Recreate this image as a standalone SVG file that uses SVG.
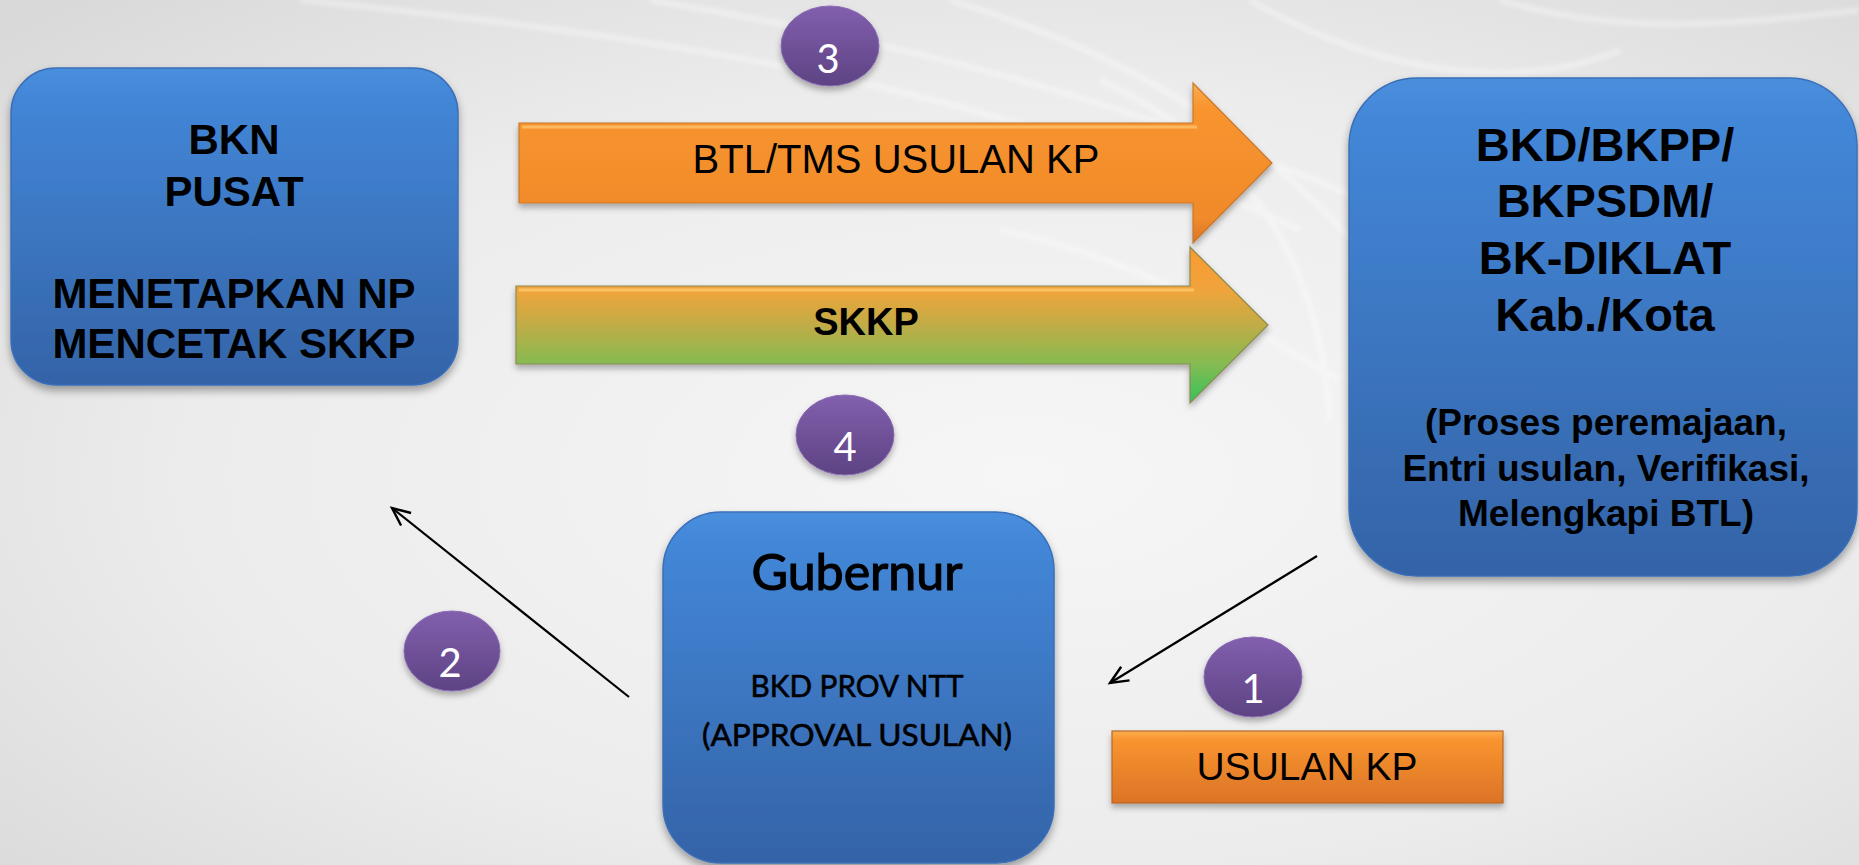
<svg xmlns="http://www.w3.org/2000/svg" width="1859" height="865" viewBox="0 0 1859 865">
<defs>
<radialGradient id="bg" cx="0.55" cy="0.55" r="0.75">
<stop offset="0" stop-color="#f6f6f6"/>
<stop offset="0.6" stop-color="#ececec"/>
<stop offset="1" stop-color="#d9d9d9"/>
</radialGradient>
<linearGradient id="blue" x1="0" y1="0" x2="0" y2="1">
<stop offset="0" stop-color="#4a8fde"/>
<stop offset="0.08" stop-color="#4387d8"/>
<stop offset="1" stop-color="#3463a7"/>
</linearGradient>
<linearGradient id="purple" x1="0" y1="0" x2="0" y2="1">
<stop offset="0" stop-color="#825fae"/>
<stop offset="1" stop-color="#5d4383"/>
</linearGradient>
<linearGradient id="orange" x1="0" y1="0" x2="0" y2="1">
<stop offset="0" stop-color="#fbae4f"/>
<stop offset="0.15" stop-color="#f8952f"/>
<stop offset="0.85" stop-color="#f08a2a"/>
<stop offset="1" stop-color="#d9742a"/>
</linearGradient>
<linearGradient id="green" gradientUnits="userSpaceOnUse" x1="0" y1="247" x2="0" y2="403">
<stop offset="0" stop-color="#f99a30"/>
<stop offset="0.28" stop-color="#f0a43c"/>
<stop offset="0.5" stop-color="#c0ac46"/>
<stop offset="0.75" stop-color="#85bb52"/>
<stop offset="1" stop-color="#35c35c"/>
</linearGradient>
<linearGradient id="usulan" x1="0" y1="0" x2="0" y2="1">
<stop offset="0" stop-color="#fbae4f"/>
<stop offset="0.12" stop-color="#f8952f"/>
<stop offset="1" stop-color="#dc7327"/>
</linearGradient>
<filter id="shadow" x="-10%" y="-10%" width="120%" height="130%">
<feDropShadow dx="0" dy="5" stdDeviation="4" flood-color="#000" flood-opacity="0.35"/>
</filter>
<filter id="shadowS" x="-20%" y="-20%" width="140%" height="150%">
<feDropShadow dx="0" dy="4" stdDeviation="3" flood-color="#000" flood-opacity="0.3"/>
</filter>
<filter id="blur"><feGaussianBlur stdDeviation="2"/></filter>
<marker id="open" markerUnits="userSpaceOnUse" markerWidth="24" markerHeight="24" refX="20" refY="10" orient="auto" viewBox="0 0 24 20">
<path d="M2,2 L20,10 L2,18" fill="none" stroke="#000" stroke-width="2.4"/>
</marker>
<style>
.box{fill:url(#blue);stroke:#3a6fb8;stroke-width:1.5;filter:url(#shadow)}
.circ{fill:url(#purple);stroke:#8a6bb5;stroke-width:1;filter:url(#shadowS)}
.num{font-family:Lato,"Open Sans",sans-serif;font-size:40px;fill:#fff;text-anchor:middle}
.bold{font-family:"Liberation Sans",Arial,sans-serif;font-weight:bold;fill:#000;text-anchor:middle}
.reg{font-family:"Liberation Sans",Arial,sans-serif;fill:#000;text-anchor:middle}
.tw{font-family:Lato,"Open Sans",sans-serif;fill:#000;stroke:#000;text-anchor:middle}
.conn{fill:none;stroke:#000;stroke-width:2.2}
</style>
</defs>

<rect x="0" y="0" width="1859" height="865" fill="url(#bg)"/>
<g stroke="#ffffff" fill="none" opacity="0.35" stroke-width="6" filter="url(#blur)">
<path d="M300,0 C700,40 1000,90 1300,230"/>
<path d="M650,0 C950,50 1200,120 1500,260"/>
<path d="M950,0 C1150,60 1300,160 1400,300"/>
<path d="M1250,0 C1350,60 1500,100 1620,50"/>
<path d="M1100,80 C1250,150 1320,260 1330,420"/>
<path d="M1000,230 C1150,260 1250,330 1340,380"/>
<path d="M1500,0 C1600,30 1700,30 1859,10"/>
</g>

<g id="node-bkn">
<rect class="box" x="11" y="68" width="447" height="317" rx="45"/>
<text class="bold" x="234" y="154" font-size="42">BKN</text>
<text class="bold" x="234" y="206" font-size="42">PUSAT</text>
<text class="bold" x="234" y="308" font-size="42">MENETAPKAN NP</text>
<text class="bold" x="234" y="358" font-size="42">MENCETAK SKKP</text>
</g>

<g id="node-bkd">
<rect class="box" x="1349" y="78" width="508" height="498" rx="68"/>
<text class="bold" x="1605" y="161" font-size="47">BKD/BKPP/</text>
<text class="bold" x="1605" y="217" font-size="47">BKPSDM/</text>
<text class="bold" x="1605" y="274" font-size="47">BK-DIKLAT</text>
<text class="bold" x="1605" y="331" font-size="47">Kab./Kota</text>
<text class="bold" x="1606" y="435" font-size="37">(Proses peremajaan,</text>
<text class="bold" x="1606" y="481" font-size="37">Entri usulan, Verifikasi,</text>
<text class="bold" x="1606" y="526" font-size="37">Melengkapi BTL)</text>
</g>

<g id="node-gubernur">
<rect class="box" x="663" y="512" width="391" height="351" rx="58"/>
<text class="tw" x="857" y="590" font-size="50" stroke-width="1.2" textLength="211" lengthAdjust="spacingAndGlyphs">Gubernur</text>
<text class="tw" x="857" y="697" font-size="30" stroke-width="0.6" textLength="213" lengthAdjust="spacingAndGlyphs">BKD PROV NTT</text>
<text class="tw" x="857" y="746" font-size="30" stroke-width="0.6" textLength="310" lengthAdjust="spacingAndGlyphs">(APPROVAL USULAN)</text>
</g>

<g id="node-arrow-btl">
<path d="M519,123 L1193,123 L1193,83 L1272,163 L1193,243 L1193,203 L519,203 Z" fill="url(#orange)" stroke="#c8772e" stroke-width="1.2" filter="url(#shadowS)"/>
<path d="M522,127 L1197,127" stroke="#fdc46f" stroke-width="3" opacity="0.8"/>
<text class="reg" x="896" y="173" font-size="40">BTL/TMS USULAN KP</text>
</g>

<g id="node-arrow-skkp">
<path d="M516,286 L1190,286 L1190,247 L1268,325 L1190,403 L1190,364 L516,364 Z" fill="url(#green)" stroke="#8a8a50" stroke-width="1.2" filter="url(#shadowS)"/>
<path d="M519,290 L1194,290" stroke="#fdca6a" stroke-width="3" opacity="0.8"/>
<text class="bold" x="866" y="335" font-size="38">SKKP</text>
</g>

<g id="node-usulan">
<rect x="1112" y="731" width="391" height="72" fill="url(#usulan)" stroke="#b8682a" stroke-width="1.2" filter="url(#shadowS)"/>
<text class="reg" x="1307" y="780" font-size="39">USULAN KP</text>
</g>

<g id="node-c3">
<ellipse class="circ" cx="830" cy="46" rx="49" ry="40"/>
<text class="num" x="828" y="73">3</text>
</g>
<g id="node-c4">
<ellipse class="circ" cx="845" cy="435" rx="49" ry="40"/>
<text class="num" x="845" y="461">4</text>
</g>
<g id="node-c2">
<ellipse class="circ" cx="452" cy="651" rx="48" ry="40"/>
<text class="num" x="450" y="677">2</text>
</g>
<g id="node-c1">
<ellipse class="circ" cx="1253" cy="677" rx="49" ry="40"/>
<text class="num" x="1253" y="703">1</text>
</g>

<g id="connectors">
<line class="conn" x1="629" y1="697" x2="392" y2="508" marker-end="url(#open)"/>
<line class="conn" x1="1317" y1="556" x2="1110" y2="683" marker-end="url(#open)"/>
</g>
</svg>
